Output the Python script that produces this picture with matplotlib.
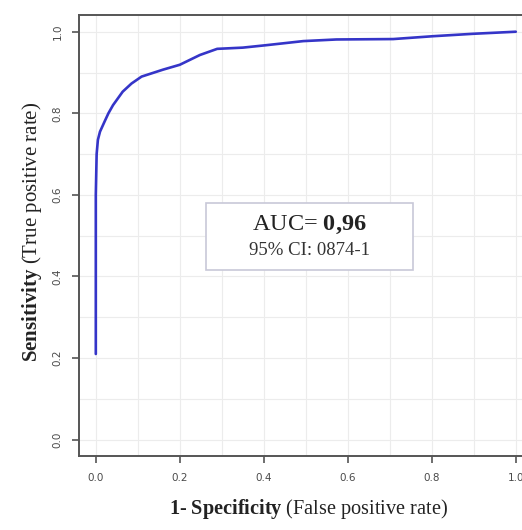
import matplotlib
matplotlib.use("Agg")
import matplotlib.pyplot as plt
from matplotlib.patches import Rectangle
from matplotlib.ticker import MultipleLocator

plt.rcParams['mathtext.fontset'] = 'custom'
plt.rcParams['mathtext.rm'] = 'Liberation Serif'
plt.rcParams['mathtext.bf'] = 'Liberation Serif:bold'
plt.rcParams['mathtext.it'] = 'Liberation Serif:italic'

# ROC curve points
fpr = [0.0, 0.0, 0.0, 0.002, 0.005, 0.01, 0.021, 0.03, 0.041, 0.064, 0.085,
       0.109, 0.16, 0.2, 0.248, 0.289, 0.35, 0.406, 0.494, 0.573, 0.708,
       0.803, 0.9, 1.0]
tpr = [0.21, 0.45, 0.60, 0.70, 0.735, 0.755, 0.78, 0.80, 0.82, 0.853, 0.873,
       0.89, 0.907, 0.919, 0.943, 0.958, 0.961, 0.967, 0.977, 0.981, 0.982,
       0.989, 0.995, 1.0]

x_ticks = [0.0, 0.2, 0.4, 0.6, 0.8, 1.0]
y_ticks = [0.0, 0.2, 0.4, 0.6, 0.8, 1.0]
auc_text = "0{,}96"
ci_text = "95% CI: 0874-1"

fig = plt.figure(figsize=(5.22, 5.30), dpi=100)
ax = fig.add_axes([79/522, 74/530, 453.6/522, 440.6/530])

ax.set_xlim(-0.04, 1.04)
ax.set_ylim(-0.04, 1.04)
ax.xaxis.set_minor_locator(MultipleLocator(0.1))
ax.yaxis.set_minor_locator(MultipleLocator(0.1))
ax.grid(True, which='both', color='#ececec', linewidth=0.8)
ax.set_axisbelow(True)

ax.plot(fpr, tpr, color='#3535c8', linewidth=1.9, solid_capstyle='round')

ax.set_xticks(x_ticks)
ax.set_yticks(y_ticks)
ax.set_xticklabels([f"{v:.1f}" for v in x_ticks])
ax.set_yticklabels([f"{v:.1f}" for v in y_ticks], rotation=90, va='center')
ax.tick_params(which='major', length=5, width=1.2, color='#555555',
               labelsize=7.5, labelcolor='#4a4a4a', pad=7)
ax.tick_params(which='minor', length=0)

for s in ax.spines.values():
    s.set_color('#555555')
    s.set_linewidth(1.4)

# AUC annotation box
ax.add_patch(Rectangle((0.262, 0.417), 0.493, 0.162, facecolor='white',
                       edgecolor='#c8c8d8', linewidth=1.2, zorder=3))
ax.text(0.509, 0.527, r"AUC= $\mathbf{" + auc_text + "}$", ha='center', va='center',
        fontsize=17.5, family='Liberation Serif', color='#222222', zorder=4)
ax.text(0.509, 0.463, ci_text, ha='center', va='center',
        fontsize=13.5, family='Liberation Serif', color='#333333', zorder=4)

fig.text(308/522, 1 - 509/530, r"$\mathbf{1}$- $\mathbf{Specificity}$ (False positive rate)",
         ha='center', va='center', fontsize=14.6, family='Liberation Serif', color='#222222')
fig.text(32/522, 1 - 232/530, r"$\mathbf{Sensitivity}$ (True positive rate)",
         ha='center', va='center', rotation=90, fontsize=15,
         family='Liberation Serif', color='#222222')

fig.savefig("out.png", dpi=100)
